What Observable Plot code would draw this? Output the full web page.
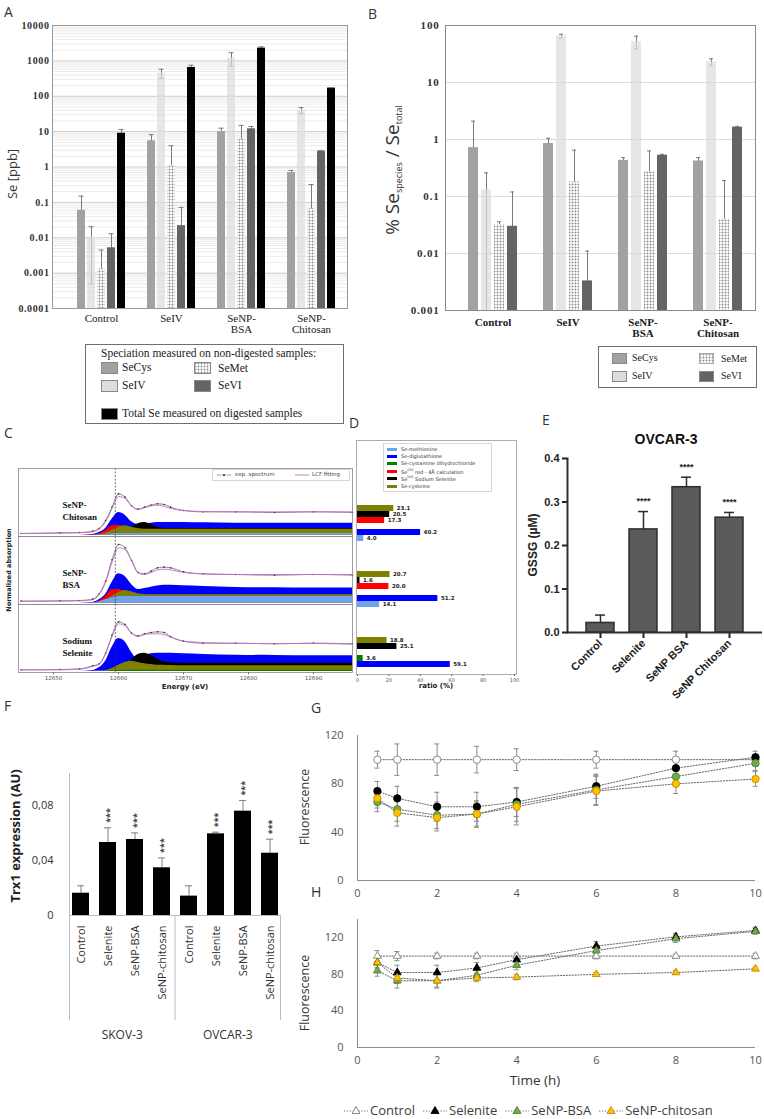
<!DOCTYPE html>
<html><head><meta charset="utf-8">
<script src="https://cdn.jsdelivr.net/npm/d3@7"></script>
<script src="https://cdn.jsdelivr.net/npm/@observablehq/plot@0.6"></script>
<style>
body{margin:0;background:#fff;}
#root{position:relative;width:764px;height:1119px;overflow:hidden;background:#fff;}
#Ewrap g[aria-label="x-axis tick"], #Ewrap g[aria-label="y-axis tick"]{stroke-width:2px;}
</style></head><body>
<svg width="0" height="0" style="position:absolute"><defs>
<pattern id="dots" width="3" height="3" patternUnits="userSpaceOnUse"><rect width="3" height="3" fill="#fff"/><circle cx="1.5" cy="1.5" r="0.95" fill="#8a8a8a"/></pattern>
</defs></svg>
<div id="root"></div>
<script>
// ================= DATA =================
// Panels A & B
const groupsAB = ["Control","SeIV","SeNP-BSA","SeNP-Chitosan"];
const groupTicksAB = ["Control","SeIV","SeNP-\nBSA","SeNP-\nChitosan"];
const speciesA = ["SeCys","SeIV","SeMet","SeVI","Total"];
const speciesB = ["SeCys","SeIV","SeMet","SeVI"];
const A_SeCys = [0.06, 5.5, 10, 0.7];
const A_SeCys_err = [0.09, 2.7, 2.5, 0.1];
const A_SeIV = [0.0105, 450, 1200, 40];
const A_SeIV_err = [0.01, 130, 500, 8];
const A_SeMet = [0.0013, 1.1, 6, 0.065];
const A_SeMet_err = [0.0032, 2.9, 9, 0.255];
const A_SeVI = [0.0052, 0.022, 12, 2.8];
const A_SeVI_err = [0.0078, 0.05, 2, 0.1];
const A_Total = [9, 650, 2300, 170];
const A_Total_err = [2.5, 100, 200, 5];
const logTicksA = [0.0001,0.001,0.01,0.1,1,10,100,1000,10000];
const B_SeCys = [0.72, 0.85, 0.43, 0.42];
const B_SeCys_err = [1.38, 0.2, 0.05, 0.06];
const B_SeIV = [0.13, 65, 52, 23];
const B_SeIV_err = [0.13, 5, 13, 3];
const B_SeMet = [0.032, 0.18, 0.27, 0.04];
const B_SeMet_err = [0.004, 0.47, 0.36, 0.15];
const B_SeVI = [0.03, 0.0033, 0.53, 1.65];
const B_SeVI_err = [0.09, 0.0077, 0.02, 0.05];
const logTicksB = [0.001,0.01,0.1,1,10,100];
const speciesFill = {SeCys:"#a2a2a2", SeIV:"#dddddd", SeMet:"url(#dots)", SeVI:"#646464", Total:"#000000"};

// Panel C (XANES spectra, fraction of panel height)
const samplesC = ["SeNP-Chitosan","SeNP-BSA","Sodium Selenite"];
const sampleLabelsC = ["SeNP-\nChitosan","SeNP-\nBSA","Sodium\nSelenite"];
const energy = [12645,12651,12654,12656,12657,12658,12659,12660,12661,12662,12663,12664,12665,12666,12667,12668,12670,12673,12678,12684,12690,12696];
const energyTicks = [12650,12660,12670,12680,12690];
const edgeEnergy = [12659.5];
const chitFit = [0.025,0.03,0.035,0.05,0.09,0.20,0.40,0.58,0.55,0.44,0.39,0.41,0.44,0.45,0.43,0.40,0.37,0.355,0.35,0.35,0.35,0.35];
const chitExp = [0.025,0.035,0.04,0.06,0.10,0.22,0.42,0.62,0.57,0.44,0.39,0.42,0.45,0.47,0.46,0.42,0.37,0.35,0.35,0.34,0.35,0.34];
const chitDiglu = [0,0,0,0.01,0.04,0.10,0.24,0.34,0.30,0.20,0.16,0.17,0.18,0.19,0.19,0.19,0.19,0.185,0.18,0.18,0.18,0.18];
const chitSelenite = [0,0,0,0,0,0,0,0.01,0.04,0.11,0.17,0.19,0.16,0.12,0.105,0.10,0.10,0.10,0.10,0.10,0.10,0.10];
const chitRed = [0,0,0,0.005,0.02,0.07,0.14,0.15,0.12,0.09,0.08,0.08,0.08,0.08,0.08,0.08,0.08,0.08,0.08,0.08,0.08,0.08];
const chitCys = [0,0,0,0,0.005,0.03,0.07,0.12,0.14,0.12,0.10,0.09,0.09,0.09,0.09,0.09,0.09,0.09,0.09,0.09,0.09,0.09];
const chitMet = [0,0,0,0,0.005,0.01,0.02,0.025,0.025,0.025,0.025,0.025,0.025,0.025,0.025,0.025,0.025,0.025,0.025,0.025,0.025,0.025];
const bsaFit = [0.03,0.03,0.035,0.05,0.13,0.31,0.615,0.83,0.80,0.64,0.46,0.43,0.46,0.50,0.51,0.50,0.46,0.44,0.43,0.43,0.43,0.43];
const bsaExp = [0.03,0.035,0.04,0.06,0.14,0.33,0.65,0.88,0.83,0.64,0.46,0.44,0.48,0.53,0.54,0.53,0.47,0.44,0.43,0.42,0.43,0.42];
const bsaDiglu = [0,0,0,0.01,0.05,0.13,0.31,0.44,0.40,0.28,0.205,0.22,0.24,0.256,0.267,0.267,0.26,0.25,0.235,0.23,0.226,0.226];
const bsaSelenite = [0,0,0,0,0,0,0,0,0,0.005,0.01,0.012,0.01,0.01,0.01,0.01,0.01,0.01,0.01,0.01,0.01,0.01];
const bsaRed = [0,0,0,0.005,0.03,0.10,0.20,0.21,0.17,0.13,0.12,0.12,0.12,0.12,0.12,0.12,0.12,0.12,0.12,0.12,0.12,0.12];
const bsaCys = [0,0,0,0,0.01,0.04,0.10,0.16,0.19,0.17,0.14,0.13,0.125,0.125,0.125,0.125,0.125,0.125,0.125,0.125,0.125,0.125];
const bsaMet = [0,0,0,0.005,0.02,0.05,0.08,0.10,0.10,0.10,0.10,0.10,0.10,0.10,0.10,0.10,0.10,0.10,0.10,0.10,0.10,0.10];
const selFit = [0.02,0.02,0.03,0.07,0.10,0.26,0.52,0.71,0.68,0.57,0.52,0.55,0.56,0.56,0.55,0.51,0.45,0.43,0.415,0.415,0.415,0.405];
const selExp = [0.02,0.025,0.035,0.08,0.11,0.27,0.54,0.74,0.70,0.57,0.53,0.56,0.58,0.59,0.58,0.52,0.45,0.42,0.42,0.41,0.42,0.41];
const selDiglu = [0,0,0,0.01,0.05,0.15,0.36,0.49,0.44,0.28,0.18,0.22,0.26,0.27,0.27,0.27,0.26,0.25,0.24,0.235,0.23,0.23];
const selSelenite = [0,0,0,0,0,0,0,0.01,0.06,0.17,0.25,0.27,0.24,0.18,0.14,0.13,0.12,0.12,0.12,0.12,0.12,0.12];
const selCys = [0,0,0,0,0,0.01,0.04,0.09,0.13,0.15,0.13,0.11,0.10,0.09,0.09,0.085,0.08,0.08,0.08,0.08,0.08,0.08];
const selCystamine = [0,0,0,0,0,0,0.005,0.01,0.015,0.015,0.015,0.015,0.015,0.015,0.015,0.015,0.015,0.015,0.015,0.015,0.015,0.015];

// Panel D (LCF ratios)
const compsD = ["Se-cysteine","SeIV Sodium Selenite","SeIV red","Se-cystamine","Se-diglutathione","Se-methionine"];
const compColor = {"Se-methionine":"#6fa3ee","Se-diglutathione":"#0000ff","Se-cystamine":"#008000","SeIV red":"#ff0000","SeIV Sodium Selenite":"#000000","Se-cysteine":"#808000"};
const D_Chitosan = [23.1, 20.5, 17.3, null, 40.2, 4.0];
const D_BSA = [20.7, 1.6, 20.0, null, 51.2, 14.1];
const D_Selenite = [18.8, 25.1, null, 3.6, 59.1, null];
const ratioTicks = [0,20,40,60,80,100];

// Panel E
const catsE = ["Control","Selenite","SeNP BSA","SeNP Chitosan"];
const E_GSSG = [0.022, 0.237, 0.334, 0.264];
const E_err = [0.018, 0.041, 0.023, 0.012];
const E_stars = ["", "****", "****", "****"];
const ticksE = [0, 0.1, 0.2, 0.3, 0.4];

// Panel F
const cellLines = ["SKOV-3","OVCAR-3"];
const catsF = ["Control","Selenite","SeNP-BSA","SeNP-chitosan"];
const F_SKOV3 = [0.0162, 0.0531, 0.0553, 0.0347];
const F_SKOV3_err = [0.0054, 0.0107, 0.0048, 0.0072];
const F_OVCAR3 = [0.0141, 0.0594, 0.0759, 0.0453];
const F_OVCAR3_err = [0.0075, 0.0012, 0.0077, 0.0102];
const F_stars = ["", "***", "***", "***"];
const ticksF = [0, 0.04, 0.08];

// Panels G & H
const times = [0.5,1,2,3,4,6,8,10];
const seriesNames = ["Control","Selenite","SeNP-BSA","SeNP-chitosan"];
const seriesFill = ["#ffffff","#000000","#70ad47","#ffc000"];
const seriesStroke = ["#808080","#000000","#548235","#bf9000"];
const G_Control = [100,100,100,100,100,100,100,100];
const G_Control_err = [7,13,13,11,9,7,7,4];
const G_Selenite = [74,68,61,61,65,78,93,102];
const G_Selenite_err = [8,10,12,12,12,10,8,5];
const G_BSA = [65,59,54,55,63,75,86,97];
const G_BSA_err = [8,10,11,10,14,12,8,6];
const G_Chitosan = [68,56,52,55,61,74,80,84];
const G_Chitosan_err = [8,11,11,11,15,12,8,6];
const H_Control = [100,100,100,100,100,100,100,100];
const H_Control_err = [6,5,3,3,3,3,2,3];
const H_Selenite = [93,82,82,87,96,111,121,128];
const H_Selenite_err = [6,8,8,6,5,5,4,3];
const H_BSA = [84,73,73,79,90,106,119,127];
const H_BSA_err = [6,8,8,5,5,4,4,3];
const H_Chitosan = [93,76,73,76,77,80,82,86];
const H_Chitosan_err = [6,6,7,4,3,2,2,2];
const timeTicks = [0,2,4,6,8,10];
const fluoTicks = [0,40,80,120];

// ================= HELPERS =================
const root = document.getElementById("root");
function place(el, left, top, width){
  const w = document.createElement("div");
  w.style.cssText = `position:absolute;left:${left}px;top:${top}px;${width?`width:${width}px;`:""}`;
  w.appendChild(el); root.appendChild(w); return w;
}
function txt(s, x, y, css, anchor){
  const d = document.createElement("div");
  d.innerHTML = s;
  let t = "";
  if (anchor === "c") t = "transform:translate(-50%,-50%);";
  if (anchor === "v") t = "transform:translate(-50%,-50%) rotate(-90deg);";
  d.style.cssText = `position:absolute;left:${x}px;top:${y}px;white-space:nowrap;line-height:1;${t}${css||""}`;
  root.appendChild(d); return d;
}
const letterCss = "font:14px 'Open Sans',sans-serif;color:#333;";

// ================= PANEL A =================
const valsA = {SeCys:[A_SeCys,A_SeCys_err], SeIV:[A_SeIV,A_SeIV_err], SeMet:[A_SeMet,A_SeMet_err], SeVI:[A_SeVI,A_SeVI_err], Total:[A_Total,A_Total_err]};
const rowsA = [];
groupsAB.forEach((g,i) => speciesA.forEach(s => rowsA.push({group:g, species:s, value:valsA[s][0][i], err:valsA[s][1][i]})));
const minorA = d3.scaleLog().domain([1e-4,1e4]).ticks().filter(v => !logTicksA.some(t => Math.abs(t - v) / t < 1e-6));
const dimA = {width:360, height:345, marginLeft:52, marginRight:13, marginTop:25, marginBottom:37};
place(Plot.plot({...dimA,
  style:{fontFamily:"'Liberation Serif',serif", fontSize:"10px", fontWeight:"bold", background:"transparent", color:"#333", letterSpacing:"0.6px", overflow:"visible"},
  y:{type:"log", domain:[1e-4,1e4], ticks:logTicksA, tickFormat:d => String(d), tickSize:0, tickPadding:3, label:null},
  marks:[
    Plot.ruleY(minorA, {stroke:"#ebebeb"}),
    Plot.ruleY(logTicksA, {stroke:"#cccccc"}),
    Plot.frame({stroke:"#9a9a9a"})
  ]}), 0, 0, 360);
const groupLabelRowsAB = groupsAB.map((g,i) => ({group:g, label:groupTicksAB[i]}));
place(Plot.plot({...dimA,
  style:{background:"transparent", overflow:"visible"},
  fx:{domain:groupsAB, paddingInner:0, paddingOuter:0.1, align:0.93, axis:null, label:null},
  x:{domain:speciesA, paddingInner:0.25, paddingOuter:0.91, axis:null},
  y:{type:"log", domain:[1e-4,1e4], axis:null},
  marks:[
    Plot.ruleX(rowsA, {fx:"group", x:"species", y1:d => Math.max(d.value - d.err, 1e-4), y2:d => d.value + d.err, stroke:"#7a7a7a"}),
    Plot.tickY(rowsA.filter(d => d.value - d.err > 1e-4), {fx:"group", x:"species", y:d => d.value - d.err, stroke:"#7a7a7a", insetLeft:1.5, insetRight:1.5}),
    ...speciesA.map(s => Plot.barY(rowsA.filter(d => d.species === s), {fx:"group", x:"species", y1:1e-4, y2:"value", fill:speciesFill[s], fillOpacity:s === "SeIV" ? 0.72 : 1})),
    Plot.tickY(rowsA, {fx:"group", x:"species", y:d => d.value + d.err, stroke:"#7a7a7a", insetLeft:1.5, insetRight:1.5}),
    Plot.text(groupLabelRowsAB, {fx:"group", text:"label", frameAnchor:"bottom", lineAnchor:"top", dy:6, fontSize:11, fontFamily:"'Liberation Serif',serif", fill:"#1a1a1a"})
  ]}), 0, 0, 360);
txt("A", 4, 2, letterCss);
txt("Se [ppb]", 12, 174, "font:13px 'Open Sans',sans-serif;color:#333;", "v");
// legend A
(function(){
  const box = document.createElement("div");
  box.style.cssText = "position:absolute;left:85px;top:344px;width:257px;height:78px;border:1px solid #6f6f6f;font:11.5px 'Liberation Serif',serif;color:#222;";
  const sw = (l,t,f) => `<div style="position:absolute;left:${l}px;top:${t}px;width:15px;height:10px;background:${f};border:1px solid #888;"></div>`;
  const swSvg = (l,t) => `<svg style="position:absolute;left:${l}px;top:${t}px" width="17" height="12"><rect x="0.5" y="0.5" width="16" height="11" fill="url(#dots)" stroke="#888"/></svg>`;
  const tx = (l,t,s) => `<div style="position:absolute;left:${l}px;top:${t}px;white-space:nowrap;line-height:1;">${s}</div>`;
  box.innerHTML =
    tx(15,3,"Speciation measured on non-digested samples:") +
    sw(15,17,speciesFill.SeCys) + tx(36,17,"SeCys") +
    swSvg(108,17) + tx(132,18,"SeMet") +
    sw(15,35,speciesFill.SeIV) + tx(36,35,"SeIV") +
    sw(108,35,speciesFill.SeVI) + tx(132,35,"SeVI") +
    sw(15,63,"#000") + tx(36,63,"Total Se measured on digested samples");
  root.appendChild(box);
})();

// ================= PANEL B =================
const valsB = {SeCys:[B_SeCys,B_SeCys_err], SeIV:[B_SeIV,B_SeIV_err], SeMet:[B_SeMet,B_SeMet_err], SeVI:[B_SeVI,B_SeVI_err]};
const rowsB = [];
groupsAB.forEach((g,i) => speciesB.forEach(s => rowsB.push({group:g, species:s, value:valsB[s][0][i], err:valsB[s][1][i]})));
const dimB = {width:404, height:345, marginLeft:85, marginRight:9, marginTop:25, marginBottom:35};
place(Plot.plot({...dimB,
  style:{fontFamily:"'Liberation Serif',serif", fontSize:"11px", fontWeight:"bold", background:"transparent", color:"#333", letterSpacing:"0.8px", overflow:"visible"},
  y:{type:"log", domain:[1e-3,100], ticks:logTicksB, tickFormat:d => String(d), tickSize:0, tickPadding:6, label:null},
  marks:[
    Plot.ruleY(logTicksB, {stroke:"#dcdcdc"}),
    Plot.frame({stroke:"#8a8a8a"})
  ]}), 360, 0, 404);
place(Plot.plot({...dimB,
  style:{background:"transparent", overflow:"visible"},
  fx:{domain:groupsAB, paddingInner:0, paddingOuter:0.053, align:0.97, axis:null, label:null},
  x:{domain:speciesB, paddingInner:0.25, paddingOuter:0.82, axis:null},
  y:{type:"log", domain:[1e-3,100], axis:null},
  marks:[
    Plot.ruleX(rowsB, {fx:"group", x:"species", y1:d => Math.max(d.value - d.err, 1e-3), y2:d => d.value + d.err, stroke:"#7a7a7a"}),
    Plot.tickY(rowsB.filter(d => d.value - d.err > 1e-3), {fx:"group", x:"species", y:d => d.value - d.err, stroke:"#7a7a7a", insetLeft:3, insetRight:3}),
    ...speciesB.map(s => Plot.barY(rowsB.filter(d => d.species === s), {fx:"group", x:"species", y1:1e-3, y2:"value", fill:speciesFill[s], fillOpacity:s === "SeIV" ? 0.72 : 1})),
    Plot.tickY(rowsB, {fx:"group", x:"species", y:d => d.value + d.err, stroke:"#7a7a7a", insetLeft:3, insetRight:3}),
    Plot.text(groupLabelRowsAB, {fx:"group", text:"label", frameAnchor:"bottom", lineAnchor:"top", dy:8, fontSize:11, fontWeight:"bold", fontFamily:"'Liberation Serif',serif", fill:"#1a1a1a"})
  ]}), 360, 0, 404);
txt("B", 368, 4, letterCss);
txt("<span style='font-size:19px'>% Se</span><span style='font-size:9px;vertical-align:-3px'>species</span><span style='font-size:19px'> / Se</span><span style='font-size:9px;vertical-align:-3px'>total</span>", 393, 170, "font-family:'Open Sans',sans-serif;color:#333;", "v");
(function(){
  const box = document.createElement("div");
  box.style.cssText = "position:absolute;left:598px;top:346px;width:157px;height:40px;border:1px solid #6f6f6f;font:10px 'Liberation Serif',serif;color:#222;";
  const sw = (l,t,f) => `<div style="position:absolute;left:${l}px;top:${t}px;width:13px;height:9px;background:${f};border:1px solid #888;"></div>`;
  const swSvg = (l,t) => `<svg style="position:absolute;left:${l}px;top:${t}px" width="15" height="11"><rect x="0.5" y="0.5" width="14" height="10" fill="url(#dots)" stroke="#aaa"/></svg>`;
  const tx = (l,t,s) => `<div style="position:absolute;left:${l}px;top:${t}px;white-space:nowrap;line-height:1;">${s}</div>`;
  box.innerHTML = sw(13,6,speciesFill.SeCys) + tx(33,6,"SeCys") + swSvg(100,6) + tx(122,7,"SeMet") +
                  sw(13,24,speciesFill.SeIV) + tx(33,24,"SeIV") + sw(100,24,speciesFill.SeVI) + tx(122,24,"SeVI");
  root.appendChild(box);
})();

// ================= PANEL C =================
const spectra = {
  "SeNP-Chitosan": {fit:chitFit, exp:chitExp, "Se-diglutathione":chitDiglu, "SeIV Sodium Selenite":chitSelenite, "SeIV red":chitRed, "Se-cysteine":chitCys, "Se-methionine":chitMet},
  "SeNP-BSA": {fit:bsaFit, exp:bsaExp, "Se-diglutathione":bsaDiglu, "SeIV Sodium Selenite":bsaSelenite, "SeIV red":bsaRed, "Se-cysteine":bsaCys, "Se-methionine":bsaMet},
  "Sodium Selenite": {fit:selFit, exp:selExp, "Se-diglutathione":selDiglu, "SeIV Sodium Selenite":selSelenite, "Se-cysteine":selCys, "Se-cystamine":selCystamine}
};
const drawOrderC = ["Se-diglutathione","SeIV Sodium Selenite","SeIV red","Se-cysteine","Se-cystamine","Se-methionine"];
const rowsC = [];
samplesC.forEach(s => Object.entries(spectra[s]).forEach(([k, arr]) => arr.forEach((v,i) => rowsC.push({sample:s, key:k, e:energy[i], v}))));
const sampleRowsC = samplesC.map((s,i) => ({sample:s, label:sampleLabelsC[i]}));
place(Plot.plot({width:360, height:260, marginLeft:18, marginRight:8, marginTop:27, marginBottom:27,
  style:{fontFamily:"'DejaVu Sans',sans-serif", fontSize:"5.5px", background:"transparent", color:"#555", overflow:"visible"},
  fy:{domain:samplesC, padding:0, axis:null, label:null},
  x:{domain:[12644.6,12696], ticks:energyTicks, tickFormat:d => String(d), tickSize:2, tickPadding:2, label:null},
  y:{domain:[-0.02,1], axis:null},
  marks:[
    ...drawOrderC.map(c => Plot.areaY(rowsC.filter(d => d.key === c), {fy:"sample", x:"e", y1:0, y2:"v", fill:compColor[c], curve:"monotone-x"})),
    Plot.ruleX(edgeEnergy, {stroke:"#333", strokeWidth:0.7, strokeDasharray:"2,1.5"}),
    Plot.line(rowsC.filter(d => d.key === "exp"), {fy:"sample", x:"e", y:"v", stroke:"#222", strokeWidth:0.6, strokeDasharray:"1.5,1", curve:"monotone-x"}),
    Plot.dot(rowsC.filter(d => d.key === "exp"), {fy:"sample", x:"e", y:"v", r:0.8, fill:"#222"}),
    Plot.line(rowsC.filter(d => d.key === "fit"), {fy:"sample", x:"e", y:"v", stroke:"#c46cc4", strokeWidth:0.9, curve:"monotone-x"}),
    Plot.text(sampleRowsC, {fy:"sample", text:"label", frameAnchor:"left", dx:44, dy:8, fontSize:9, fontWeight:"bold", fontFamily:"'Liberation Serif',serif", fill:"#111", lineHeight:1.35}),
    Plot.frame({stroke:"#888", strokeWidth:0.8})
  ]}), 0, 440, 360);
txt("C", 4, 423, letterCss);
txt("Energy (eV)", 185, 687, "font:bold 7px 'DejaVu Sans',sans-serif;color:#222;", "c");
txt("Normalized absorption", 9, 570, "font:bold 6.5px 'DejaVu Sans',sans-serif;color:#222;", "v");
(function(){
  const box = document.createElement("div");
  box.style.cssText = "position:absolute;left:212px;top:469px;width:136px;height:10px;border:1px solid #d6d6d6;background:#fff;font:5.5px 'DejaVu Sans',sans-serif;color:#444;";
  box.innerHTML =
   `<svg style="position:absolute;left:4px;top:2px" width="14" height="6"><line x1="0" y1="3" x2="14" y2="3" stroke="#222" stroke-width="0.6" stroke-dasharray="1.5,1"/><circle cx="7" cy="3" r="0.9" fill="#222"/></svg>` +
   `<div style="position:absolute;left:22px;top:2px;white-space:nowrap;line-height:1;">exp. spectrum</div>` +
   `<svg style="position:absolute;left:82px;top:2px" width="14" height="6"><line x1="0" y1="3" x2="14" y2="3" stroke="#c46cc4" stroke-width="0.9"/></svg>` +
   `<div style="position:absolute;left:99px;top:2px;white-space:nowrap;line-height:1;">LCF fitting</div>`;
  root.appendChild(box);
})();

// ================= PANEL D =================
const valsD = {"SeNP-Chitosan":D_Chitosan, "SeNP-BSA":D_BSA, "Sodium Selenite":D_Selenite};
const rowsD = [];
samplesC.forEach(s => compsD.forEach((c,i) => { const v = valsD[s][i]; if (v != null) rowsD.push({sample:s, comp:c, value:v}); }));
const xD = {domain:[0,100], insetLeft:1, insetRight:2};
place(Plot.plot({width:190, height:280, marginLeft:16, marginRight:14, marginTop:20, marginBottom:26,
  style:{fontFamily:"'DejaVu Sans',sans-serif", fontSize:"5px", background:"transparent", color:"#555", overflow:"visible"},
  x:{...xD, ticks:ratioTicks, tickSize:2, tickPadding:2, label:null},
  marks:[Plot.frame({stroke:"#999", strokeWidth:0.8})]}), 340, 420, 190);
place(Plot.plot({width:190, height:280, marginLeft:16, marginRight:14, marginTop:55, marginBottom:26,
  style:{background:"transparent", overflow:"visible"},
  fy:{domain:samplesC, padding:0, axis:null, label:null},
  x:{...xD, axis:null},
  y:{domain:compsD, paddingInner:0.06, paddingOuter:0, insetTop:28, axis:null},
  color:{type:"identity"},
  marks:[
    Plot.barX(rowsD, {fy:"sample", y:"comp", x1:0, x2:"value", fill:d => compColor[d.comp]}),
    Plot.text(rowsD, {fy:"sample", y:"comp", x:"value", text:d => d.value.toFixed(1), dx:3, textAnchor:"start", fontSize:5.5, fontWeight:"bold", fontFamily:"'DejaVu Sans',sans-serif", fill:"#222"})
  ]}), 340, 420, 190);
txt("D", 349, 413, letterCss);
txt("ratio (%)", 436, 686, "font:bold 7px 'DejaVu Sans',sans-serif;color:#222;", "c");
(function(){
  const box = document.createElement("div");
  box.style.cssText = "position:absolute;left:383px;top:443px;width:107px;height:47px;border:1px solid #d6d6d6;background:#fff;font:5px 'DejaVu Sans',sans-serif;color:#333;";
  const entries = [["Se-methionine","Se-methionine"],["Se-diglutathione","Se-diglutathione"],["Se-cystamine","Se-cystamine dihydrochloride"],["SeIV red","Se<sup style='font-size:3.5px'>(IV)</sup> red - 4Å calculation"],["SeIV Sodium Selenite","Se<sup style='font-size:3.5px'>(IV)</sup> Sodium Selenite"],["Se-cysteine","Se-cysteine"]];
  box.innerHTML = entries.map(([k,l],i) =>
    `<div style="position:absolute;left:3px;top:${3.5 + i*7.4}px;width:10px;height:3px;background:${compColor[k]};"></div>` +
    `<div style="position:absolute;left:17px;top:${2.5 + i*7.4}px;white-space:nowrap;line-height:1;">${l}</div>`).join("");
  root.appendChild(box);
})();

// ================= PANEL E =================
const rowsE = catsE.map((c,i) => ({cat:c, value:E_GSSG[i], err:E_err[i], star:E_stars[i]}));
place(Plot.plot({width:244, height:275, marginLeft:47, marginRight:2, marginTop:28, marginBottom:73,
  style:{fontFamily:"'Liberation Sans',Arial,sans-serif", fontSize:"11px", fontWeight:"bold", background:"transparent", color:"#222", overflow:"visible"},
  x:{domain:catsE, paddingInner:0.36, paddingOuter:0.4, tickRotate:-45, tickSize:6, tickPadding:3, label:null},
  y:{domain:[0,0.4], ticks:ticksE, tickFormat:d => d.toFixed(1), tickSize:5, tickPadding:3, label:null},
  marks:[
    Plot.barY(rowsE, {x:"cat", y1:0, y2:"value", fill:"#5a5a5a", stroke:"#2e2e2e", strokeWidth:1.5}),
    Plot.ruleX(rowsE, {x:"cat", y1:"value", y2:d => d.value + d.err, stroke:"#2e2e2e", strokeWidth:1.5}),
    Plot.tickY(rowsE, {x:"cat", y:d => d.value + d.err, stroke:"#2e2e2e", strokeWidth:1.5, insetLeft:9, insetRight:9}),
    Plot.text(rowsE.filter(d => d.star), {x:"cat", y:d => d.value + d.err, text:"star", dy:-10, lineAnchor:"middle", fontSize:9, fontWeight:"bold", fill:"#222"}),
    Plot.ruleY([0], {stroke:"#2e2e2e", strokeWidth:2}),
    Plot.frame({anchor:"left", stroke:"#2e2e2e", strokeWidth:2})
  ]}), 520, 430, 244).id = "Ewrap";
txt("E", 542, 410, letterCss);
txt("OVCAR-3", 666, 439, "font:bold 14px 'Liberation Sans',Arial,sans-serif;color:#111;", "c");
txt("GSSG (µM)", 533, 545, "font:bold 12px 'Liberation Sans',Arial,sans-serif;color:#222;", "v");

// ================= PANEL F =================
const rowsF = [];
[[F_SKOV3,F_SKOV3_err],[F_OVCAR3,F_OVCAR3_err]].forEach(([v,e],k) => catsF.forEach((c,i) => rowsF.push({key:cellLines[k] + "|" + c, value:v[i], err:e[i], star:F_stars[i]})));
const dimF = {width:300, height:285, marginLeft:64, marginRight:15, marginTop:13, marginBottom:130};
const yF = {domain:[0,0.1033]};
place(Plot.plot({...dimF,
  style:{fontFamily:"'Open Sans',sans-serif", fontSize:"12px", background:"transparent", color:"#333", overflow:"visible"},
  x:{domain:[0, cellLines.length], insetLeft:5, insetRight:5, axis:null},
  y:{...yF, axis:null},
  marks:[
    Plot.ruleX([0], {stroke:"#bdbdbd", insetBottom:-105}),
    Plot.ruleX(d3.range(1, cellLines.length + 1), {stroke:"#bdbdbd", insetTop:142, insetBottom:-105}),
    Plot.ruleY([0], {x1:0, x2:cellLines.length, stroke:"#bdbdbd"}),
    Plot.text(cellLines, {x:(d,i) => i + 0.5, frameAnchor:"bottom", dy:123, fontSize:12, fill:"#333"})
  ]}), 0, 760, 300);
place(Plot.plot({...dimF,
  style:{fontFamily:"'Open Sans',sans-serif", fontSize:"11px", background:"transparent", color:"#333", overflow:"visible"},
  x:{domain:rowsF.map(d => d.key), paddingInner:0.38, paddingOuter:0.19, tickRotate:-90, tickSize:0, tickPadding:10, tickFormat:d => d.split("|")[1], label:null},
  y:{...yF, ticks:ticksF, tickFormat:d => d === 0 ? "0" : d.toFixed(2).replace(".", ","), tickSize:0, tickPadding:11, label:null},
  marks:[
    Plot.ruleX(rowsF, {x:"key", y1:"value", y2:d => d.value + d.err, stroke:"#7f7f7f"}),
    Plot.tickY(rowsF, {x:"key", y:d => d.value + d.err, stroke:"#7f7f7f", insetLeft:5, insetRight:5}),
    Plot.barY(rowsF, {x:"key", y1:0, y2:"value", fill:"#000"}),
    Plot.text(rowsF.filter(d => d.star), {x:"key", y:d => d.value + d.err, text:"star", rotate:-90, textAnchor:"start", lineAnchor:"middle", dy:-5, dx:2, fontSize:9, fontWeight:"bold", fill:"#444"})
  ]}), 0, 760, 300);
txt("F", 4, 696, letterCss);
txt("Trx1 expression (AU)", 15, 836, "font:bold 13px 'Open Sans',sans-serif;color:#222;", "v");

// ================= PANELS G & H =================
function tsRows(vals, errs){
  const out = [];
  seriesNames.forEach((n,k) => times.forEach((t,i) => out.push({series:n, t, v:vals[k][i], err:errs[k][i]})));
  return out;
}
const rowsG = tsRows([G_Control,G_Selenite,G_BSA,G_Chitosan],[G_Control_err,G_Selenite_err,G_BSA_err,G_Chitosan_err]);
const rowsH = tsRows([H_Control,H_Selenite,H_BSA,H_Chitosan],[H_Control_err,H_Selenite_err,H_BSA_err,H_Chitosan_err]);
function timePlot(rows, ymax, height, marginTop, marginBottom, symbol, r){
  return Plot.plot({width:474, height, marginLeft:67, marginRight:9, marginTop, marginBottom,
    style:{fontFamily:"'Open Sans',sans-serif", fontSize:"11px", background:"transparent", color:"#555", overflow:"visible"},
    x:{domain:[0,10], ticks:timeTicks, tickSize:0, tickPadding:9, label:null},
    y:{domain:[0,ymax], ticks:fluoTicks, tickSize:0, tickPadding:14, label:null},
    marks:[
      Plot.ruleX([0], {stroke:"#8c8c8c"}),
      Plot.ruleY([0], {stroke:"#8c8c8c"}),
      ...seriesNames.map(n => Plot.line(rows.filter(d => d.series === n), {x:"t", y:"v", stroke:"#666", strokeWidth:1, strokeDasharray:"1.3,1.6"})),
      Plot.ruleX(rows, {x:"t", y1:d => d.v - d.err, y2:d => d.v + d.err, stroke:"#8a8a8a"}),
      Plot.ruleY(rows, {y:d => d.v + d.err, x1:"t", x2:"t", insetLeft:-2.5, insetRight:-2.5, stroke:"#8a8a8a"}),
      Plot.ruleY(rows, {y:d => d.v - d.err, x1:"t", x2:"t", insetLeft:-2.5, insetRight:-2.5, stroke:"#8a8a8a"}),
      ...seriesNames.map((n,k) => Plot.dot(rows.filter(d => d.series === n), {x:"t", y:"v", r, symbol, fill:seriesFill[k], stroke:seriesStroke[k], strokeWidth:0.9}))
    ]});
}
place(timePlot(rowsG, 120, 205, 35, 25, "circle", 3.7), 290, 700, 474);
place(timePlot(rowsH, 140, 190, 19, 43, "triangle", 2.9), 290, 900, 474);
txt("G", 311, 698, letterCss);
txt("H", 311, 882, letterCss);
txt("Fluorescence", 304, 807, "font:12.5px 'Open Sans',sans-serif;color:#333;", "v");
txt("Fluorescence", 304, 993, "font:12.5px 'Open Sans',sans-serif;color:#333;", "v");
txt("Time (h)", 535, 1080, "font:13.5px 'Open Sans',sans-serif;color:#333;", "c");
(function(){
  const lg = document.createElement("div");
  lg.style.cssText = "position:absolute;left:344px;top:1103px;white-space:nowrap;font:13px 'Open Sans',sans-serif;color:#404040;line-height:14px;height:15px;";
  lg.innerHTML = seriesNames.map((n,k) =>
    `<span style="display:inline-flex;align-items:center;margin-right:8px;"><svg width="24" height="12" style="margin-right:2px"><line x1="0" y1="7" x2="24" y2="7" stroke="#777" stroke-dasharray="1.3,1.6"/><path d="M12,2.5 L16,9.5 L8,9.5 Z" fill="${seriesFill[k]}" stroke="${seriesStroke[k]}" stroke-width="0.9"/></svg>${n}</span>`).join("");
  root.appendChild(lg);
})();
</script></body></html>
